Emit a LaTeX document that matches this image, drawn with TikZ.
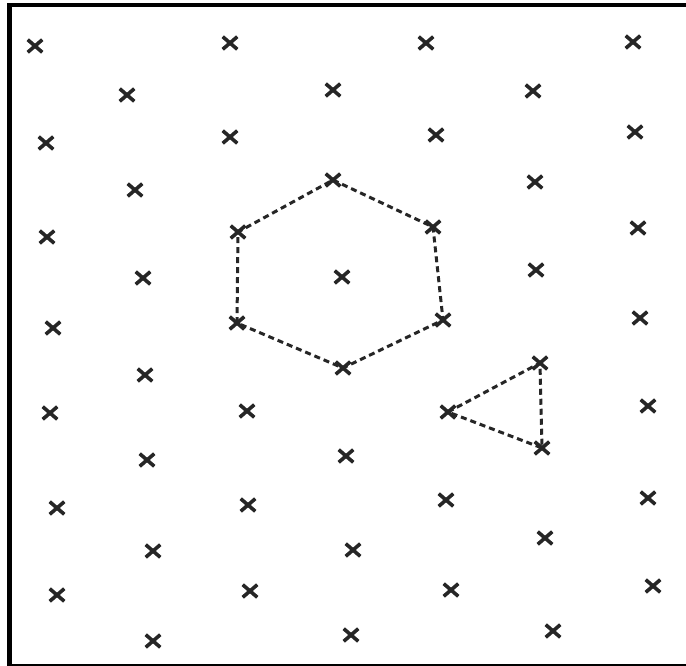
\documentclass[tikz,border=0pt]{standalone}
\usepackage{tikz}
\usetikzlibrary{shapes.misc}

\begin{document}
\begin{tikzpicture}[
  x=1pt, y=-1pt,
  site/.style={cross out, draw=black!85, line width=3.6pt, minimum width=11pt, minimum height=9pt, inner sep=0pt},
  cell/.style={draw=black!85, line width=3pt, dash pattern=on 6pt off 4pt},
  frame/.style={fill=black}
]
\useasboundingbox[fill=white] (0,0) rectangle (686,666);
% scanned page edges
\fill[frame] (7,3) rectangle (12,666);
\fill[frame] (7,3) rectangle (686,7);
\fill[frame] (7,664) rectangle (686,666);

% lattice sites, row by row
\foreach \n/\x/\y in {
  a1/35/46, a2/230/43, a3/426/43, a4/633/42,
  b1/127/95, b2/333/90, b3/533/91,
  c1/46/143, c2/230/137, c3/436/135, c4/635/132,
  d1/135/190, d2/333/180, d3/535/182,
  e1/47/237, e2/238/232, e3/433/227, e4/638/228,
  f1/143/278, f2/342/277, f3/536/270,
  g1/53/328, g2/237/323, g3/443/320, g4/640/318,
  h1/145/375, h2/343/368, h3/540/363,
  i1/50/413, i2/247/411, i3/448/412, i4/648/406,
  j1/147/460, j2/346/456, j3/542/448,
  k1/57/508, k2/248/505, k3/446/500, k4/648/498,
  l1/153/551, l2/353/550, l3/545/538,
  m1/57/595, m2/250/591, m3/451/590, m4/653/586,
  n1/153/641, n2/351/635, n3/553/631}
  \node[site] (\n) at (\x,\y) {};

% hexagonal cell round f2
\draw[cell] (d2.center) -- (e3.center) -- (g3.center) -- (h2.center) -- (g2.center) -- (e2.center) -- cycle;
% triangle
\draw[cell] (i3.center) -- (h3.center) -- (j3.center) -- cycle;
\end{tikzpicture}
\end{document}
